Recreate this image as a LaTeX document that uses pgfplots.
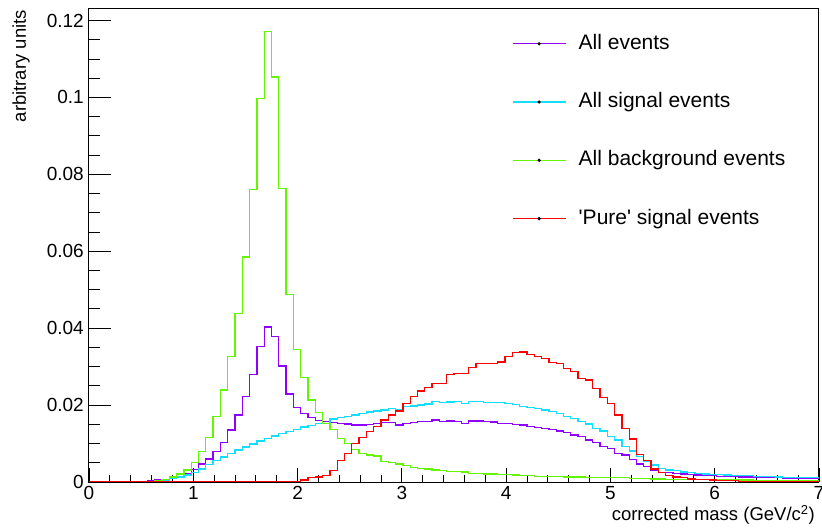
\documentclass[border=0pt]{standalone}
\usepackage{pgfplots}
\pgfplotsset{compat=1.18}
\usepackage{pgfplotstable}
\usepackage{fontspec}
\setmainfont{Liberation Sans}

\definecolor{cAll}{RGB}{144,0,255}
\definecolor{cSig}{RGB}{20,222,255}
\definecolor{cBkg}{RGB}{102,245,0}
\definecolor{cPure}{RGB}{255,0,0}

% corrected-mass histograms, 100 bins of 0.07 GeV/c^2 (left bin edges)
\pgfplotstableread{
x    all    sig    bkg    pure
0.00 0      0      0      0
0.07 0      0      0      0
0.14 0      0      0      0
0.21 0      0      0      0
0.28 0      0      0      0
0.35 0      0      0      0
0.42 0      0      0      0
0.49 0.0001 0      0      0
0.56 0.0003 0.0001 0.0001 0
0.63 0.0005 0.0003 0.0003 0
0.70 0.0007 0.0005 0.0006 0
0.77 0.0009 0.0009 0.0013 0
0.84 0.0013 0.0013 0.0021 0
0.91 0.0021 0.0018 0.0031 0
0.98 0.0033 0.0025 0.0051 0
1.05 0.0047 0.0034 0.0079 0
1.12 0.0060 0.0046 0.0116 0
1.19 0.0079 0.0056 0.0170 0
1.26 0.0102 0.0065 0.0239 0
1.33 0.0135 0.0074 0.0327 0
1.40 0.0174 0.0083 0.0438 0
1.47 0.0222 0.0091 0.0585 0
1.54 0.0280 0.0099 0.0760 0
1.61 0.0353 0.0107 0.0998 0
1.68 0.0403 0.0114 0.1171 0
1.75 0.0379 0.0120 0.1053 0
1.82 0.0302 0.0126 0.0763 0
1.89 0.0229 0.0131 0.0487 0
1.96 0.0193 0.0137 0.0345 0
2.03 0.0178 0.0143 0.0271 0.0005
2.10 0.0167 0.0147 0.0213 0.0011
2.17 0.0160 0.0152 0.0180 0.0013
2.24 0.0157 0.0153 0.0153 0.0017
2.31 0.0154 0.0164 0.0137 0.0029
2.38 0.0152 0.0167 0.0114 0.0055
2.45 0.0151 0.0171 0.0100 0.0074
2.52 0.0148 0.0174 0.0085 0.0100
2.59 0.0148 0.0178 0.0075 0.0115
2.66 0.0150 0.0182 0.0070 0.0131
2.73 0.0152 0.0185 0.0068 0.0144
2.80 0.0154 0.0187 0.0054 0.0161
2.87 0.0154 0.0192 0.0050 0.0174
2.94 0.0148 0.0187 0.0047 0.0185
3.01 0.0152 0.0196 0.0042 0.0204
3.08 0.0154 0.0198 0.0038 0.0223
3.15 0.0157 0.0200 0.0036 0.0237
3.22 0.0157 0.0203 0.0034 0.0246
3.29 0.0161 0.0209 0.0031 0.0256
3.36 0.0157 0.0206 0.0029 0.0257
3.43 0.0159 0.0208 0.0028 0.0280
3.50 0.0157 0.0209 0.0027 0.0282
3.57 0.0153 0.0204 0.0026 0.0283
3.64 0.0159 0.0209 0.0023 0.0297
3.71 0.0159 0.0210 0.0022 0.0308
3.78 0.0157 0.0207 0.0021 0.0308
3.85 0.0156 0.0206 0.0021 0.0309
3.92 0.0152 0.0206 0.0020 0.0312
3.99 0.0152 0.0204 0.0019 0.0327
4.06 0.0150 0.0202 0.0018 0.0336
4.13 0.0148 0.0197 0.0017 0.0338
4.20 0.0145 0.0193 0.0016 0.0332
4.27 0.0142 0.0191 0.0015 0.0327
4.34 0.0139 0.0187 0.0015 0.0321
4.41 0.0137 0.0183 0.0014 0.0310
4.48 0.0133 0.0178 0.0014 0.0308
4.55 0.0128 0.0171 0.0013 0.0295
4.62 0.0122 0.0165 0.0013 0.0287
4.69 0.0118 0.0158 0.0013 0.0269
4.76 0.0109 0.0151 0.0012 0.0265
4.83 0.0102 0.0139 0.0012 0.0243
4.90 0.0093 0.0133 0.0012 0.0220
4.97 0.0087 0.0119 0.0011 0.0204
5.04 0.0074 0.0109 0.0011 0.0174
5.11 0.0070 0.0093 0.0011 0.0139
5.18 0.0059 0.0081 0.0010 0.0112
5.25 0.0047 0.0066 0.0010 0.0071
5.32 0.0040 0.0053 0.0009 0.0055
5.39 0.0031 0.0044 0.0008 0.0034
5.46 0.0025 0.0035 0.0008 0.0024
5.53 0.0024 0.0031 0.0007 0.0017
5.60 0.0023 0.0029 0.0007 0.0013
5.67 0.0021 0.0026 0.0007 0.0011
5.74 0.0019 0.0024 0.0006 0.0008
5.81 0.0018 0.0023 0.0006 0.0007
5.88 0.0016 0.0021 0.0006 0.0006
5.95 0.0016 0.0020 0.0006 0.0005
6.02 0.0015 0.0019 0.0005 0.0004
6.09 0.0014 0.0018 0.0005 0.0003
6.16 0.0014 0.0017 0.0005 0.0003
6.23 0.0013 0.0016 0.0005 0.0002
6.30 0.0013 0.0016 0.0005 0.0002
6.37 0.0012 0.0015 0.0004 0.0001
6.44 0.0012 0.0014 0.0004 0.0001
6.51 0.0011 0.0014 0.0004 0.0001
6.58 0.0011 0.0013 0.0004 0.0001
6.65 0.0010 0.0012 0.0004 0.0001
6.72 0.0010 0.0012 0.0003 0.0001
6.79 0.0009 0.0011 0.0003 0.0001
6.86 0.0009 0.0011 0.0003 0.0001
6.93 0.0009 0.0011 0.0003 0.0001
7.00 0.0009 0.0011 0.0003 0.0001
}\masstable

\pgfplotsset{
  frame/.style={
    scale only axis, width=730bp, height=473bp,
    xmin=0, xmax=7, ymin=0, ymax=0.123,
    tick pos=left, tick align=inside,
    tick style={black, line width=0.9bp},
    axis line style={black, line width=1bp},
  },
}

\begin{document}
\begin{tikzpicture}
\useasboundingbox (-89bp,-47bp) rectangle (733bp,482bp);

% main axis: histograms, frame, x ticks, legend
\begin{axis}[
  frame,
  xtick={0,1,...,7},
  minor x tick num=4,
  major tick length=14bp, minor tick length=7bp,
  ytick=\empty,
  xticklabel style={font=\fontsize{19bp}{22bp}\selectfont, inner sep=0pt, yshift=-4bp},
  /pgf/number format/assume math mode=true,
  xlabel={corrected mass (GeV/c\textsuperscript{2})},
  xlabel style={at={(axis description cs:1,0)}, anchor=north east, inner sep=0pt,
    font=\fontsize{18.5bp}{22bp}\selectfont, xshift=-4bp, yshift=-23bp},
  ylabel={arbitrary units},
  ylabel style={at={(axis description cs:-0.0863,0.998)}, rotate=0, anchor=base east,
    inner sep=0pt, font=\fontsize{18.5bp}{22bp}\selectfont},
  const plot,
  legend image code/.code={
    \draw[#1, line width=1.2bp] (0bp,0bp) -- (53bp,0bp);
    \fill[black] (26.5bp,0bp) circle[radius=0.9bp];
  },
  legend cell align=left,
  legend style={draw=none, fill=none, at={(axis description cs:0.5795,0.9467)},
    anchor=north west, inner sep=0pt, outer sep=0pt, row sep=39.3bp,
    font=\fontsize{21bp}{24bp}\selectfont,
    nodes={inner sep=0pt, text height=15bp, text depth=4bp},
    /tikz/every odd column/.append style={column sep=12.5bp}},
]
\addplot[draw=cAll,  line width=1.3bp] table[x=x, y=all]  {\masstable};
\addlegendentry{All events}
\addplot[draw=cSig,  line width=1.3bp] table[x=x, y=sig]  {\masstable};
\addlegendentry{All signal events}
\addplot[draw=cBkg,  line width=1.3bp] table[x=x, y=bkg]  {\masstable};
\addlegendentry{All background events}
\addplot[draw=cPure, line width=1.3bp] table[x=x, y=pure] {\masstable};
\addlegendentry{\textquotesingle Pure\textquotesingle\ signal events}
\end{axis}

% overlay axis carrying only the y ticks (longer tick marks on this side)
\begin{axis}[
  frame,
  axis line style={draw=none},
  xtick=\empty,
  ytick={0,0.02,0.04,0.06,0.08,0.1,0.12},
  yticklabels={0,0.02,0.04,0.06,0.08,0.1,0.12},
  minor y tick num=3,
  major tick length=22bp, minor tick length=11bp,
  yticklabel style={font=\fontsize{19bp}{22bp}\selectfont, inner sep=0pt, xshift=-5bp},
]
\end{axis}
\end{tikzpicture}
\end{document}
